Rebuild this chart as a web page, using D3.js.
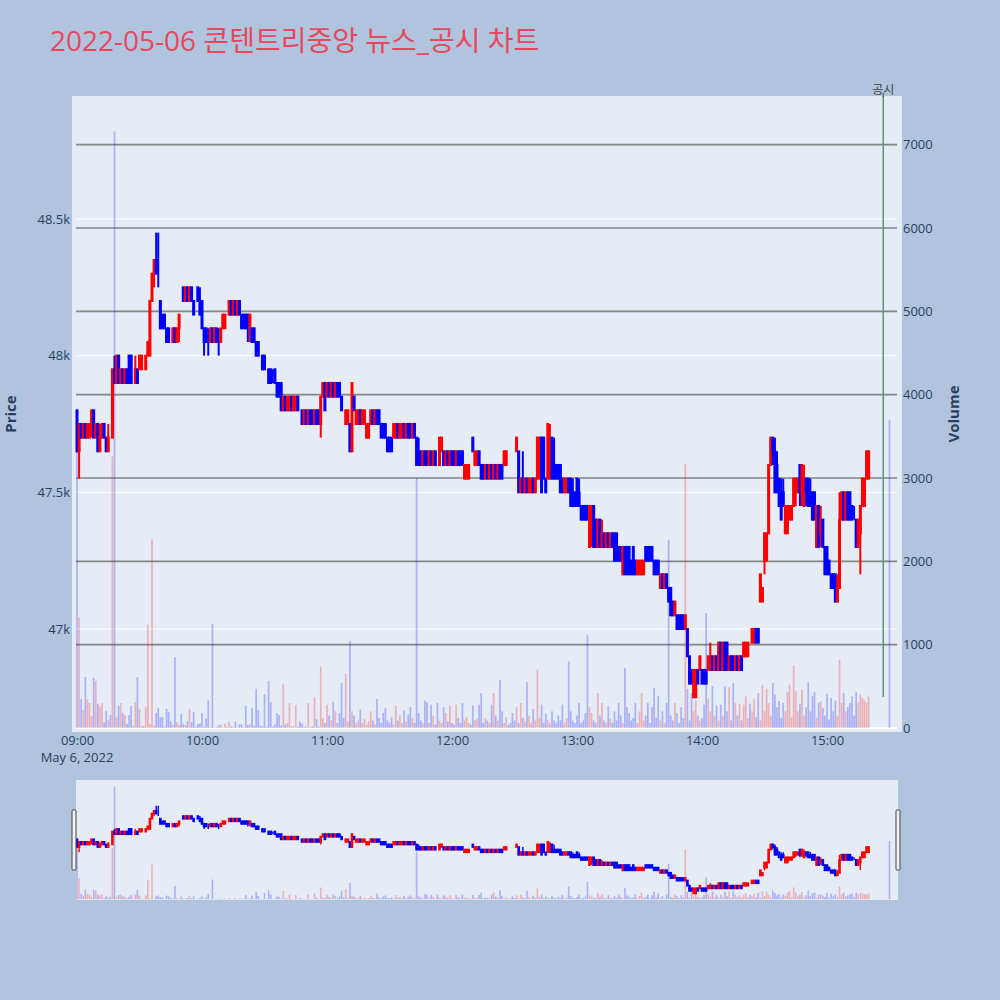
<!DOCTYPE html>
<html><head><meta charset="utf-8">
<script src="https://cdn.jsdelivr.net/npm/d3@7"></script>
<style>
body{margin:0;background:#b0c4de;}
svg{display:block;}
text{font-family:"Open Sans","Noto Sans CJK KR",sans-serif;}
</style></head>
<body><svg id="chart" width="1000" height="1000"></svg>
<script>
const titleText = "2022-05-06 콘텐트리중앙 뉴스_공시 차트";
const sessionStart = "2022-05-06 09:00";
const sessionEnd = "2022-05-06 15:20";
const closingAuction = "2022-05-06 15:30";
const disclosureTime = "2022-05-06 15:27";
const disclosureLabel = "공시";
const priceTicks = [47000, 47500, 48000, 48500];
const volumeTicks = [0,1000,2000,3000,4000,5000,6000,7000];
const timeTicks = ["09:00","10:00","11:00","12:00","13:00","14:00","15:00"];

const open = [
47800,47650,47750,47700,47750,47700,47700,47750,47800,47700,
47750,47650,47700,47750,47700,47650,47700,47700,47950,47900,
48000,47900,47950,47900,47950,48000,48000,47900,47900,47950,
47950,47950,48000,47950,48000,48000,48200,48300,48350,48300,
48200,48150,48150,48100,48100,48100,48050,48100,48050,48100,
48150,48250,48200,48250,48200,48250,48200,48200,48250,48200,
48200,48100,48100,48050,48050,48100,48050,48100,48050,48050,
48100,48100,48150,48150,48200,48150,48200,48150,48200,48150,
48150,48150,48150,48100,48100,48100,48050,48050,48000,48000,
48000,47950,47950,47950,47900,47950,47900,47900,47900,47800,
47850,47800,47800,47850,47800,47800,47850,47800,47800,47750,
47800,47750,47800,47800,47750,47800,47800,47750,47850,47900,
47850,47900,47850,47900,47850,47900,47900,47850,47800,47750,
47750,47750,47650,47850,47750,47750,47800,47750,47750,47700,
47700,47750,47800,47750,47800,47800,47750,47750,47750,47700,
47700,47700,47700,47700,47750,47700,47700,47750,47700,47750,
47750,47700,47750,47700,47650,47650,47600,47650,47650,47600,
47650,47600,47650,47600,47600,47650,47650,47600,47650,47600,
47650,47650,47600,47650,47650,47650,47550,47550,47550,47600,
47700,47600,47600,47650,47600,47600,47550,47600,47550,47600,
47550,47600,47550,47600,47600,47600,47600,47600,47600,47600,
47600,47650,47650,47500,47550,47500,47550,47500,47500,47550,
47500,47550,47550,47700,47700,47550,47550,47550,47700,47600,
47600,47600,47600,47550,47500,47500,47550,47550,47500,47500,
47550,47500,47450,47450,47450,47450,47300,47350,47450,47400,
47300,47400,47300,47350,47300,47350,47300,47350,47350,47350,
47300,47300,47200,47300,47300,47300,47250,47300,47250,47200,
47200,47200,47200,47300,47300,47300,47300,47250,47250,47250,
47150,47200,47150,47200,47150,47150,47100,47050,47050,47050,
47050,47050,47000,47000,46900,46850,46750,46750,46850,46850,
46850,46850,46850,46850,46850,46900,46850,46900,46850,46950,
46850,46950,46950,46850,46900,46900,46850,46900,46850,46900,
46900,46900,46900,46950,46950,46950,47000,47000,47100,47100,
47250,47250,47350,47600,47700,47650,47600,47550,47500,47500,
47350,47350,47400,47400,47450,47500,47500,47600,47500,47450,
47550,47550,47500,47500,47500,47300,47450,47350,47400,47300,
47300,47250,47200,47200,47200,47100,47150,47400,47500,47400,
47500,47500,47450,47400,47400,47300,47350,47450,47450,47550,47550,
46900];
const high = [
47800,47750,47750,47750,47750,47750,47750,47800,47800,47750,
47750,47750,47750,47750,47700,47750,47700,47950,48000,48000,
48000,47950,47950,47950,47950,48000,48000,47900,48000,47950,
48000,48000,48000,48000,48050,48200,48300,48350,48450,48450,
48200,48150,48150,48100,48100,48100,48100,48100,48100,48150,
48150,48250,48250,48250,48250,48250,48200,48200,48250,48250,
48200,48100,48100,48100,48100,48100,48100,48100,48100,48100,
48150,48150,48150,48200,48200,48200,48200,48200,48200,48150,
48150,48150,48150,48150,48100,48100,48050,48050,48000,48000,
48000,47950,47950,47950,47950,47950,47900,47900,47900,47850,
47850,47850,47850,47850,47850,47850,47850,47800,47800,47800,
47800,47800,47800,47800,47800,47800,47800,47850,47900,47900,
47900,47900,47900,47900,47900,47900,47900,47850,47800,47800,
47800,47750,47900,47850,47800,47800,47800,47800,47800,47750,
47750,47800,47800,47800,47800,47800,47750,47750,47750,47700,
47700,47700,47750,47750,47750,47750,47750,47750,47750,47750,
47750,47750,47750,47700,47700,47650,47650,47650,47650,47650,
47650,47650,47650,47600,47700,47700,47650,47650,47650,47650,
47650,47650,47650,47650,47650,47650,47600,47600,47600,47600,
47700,47650,47650,47650,47600,47600,47600,47600,47600,47600,
47600,47600,47600,47600,47600,47650,47650,47600,47600,47600,
47600,47700,47650,47550,47650,47550,47550,47550,47550,47550,
47550,47700,47700,47700,47700,47550,47750,47750,47700,47700,
47600,47600,47600,47550,47550,47550,47550,47550,47550,47500,
47550,47550,47450,47450,47450,47450,47450,47450,47450,47400,
47400,47400,47400,47350,47350,47350,47350,47350,47350,47350,
47300,47300,47300,47300,47300,47300,47250,47300,47250,47250,
47250,47250,47250,47300,47300,47300,47300,47250,47250,47250,
47200,47200,47200,47200,47150,47150,47100,47100,47050,47050,
47050,47050,47050,47000,46900,46850,46850,46850,46850,46900,
46850,46850,46850,46900,46950,46900,46900,46900,46950,46950,
46950,46950,46950,46900,46900,46900,46900,46900,46900,46900,
46950,46950,46950,46950,47000,47000,47000,47000,47200,47150,
47350,47350,47600,47700,47700,47700,47650,47550,47550,47550,
47450,47450,47450,47450,47550,47550,47550,47600,47600,47600,
47550,47550,47550,47500,47500,47450,47450,47450,47400,47300,
47300,47250,47200,47200,47200,47200,47500,47500,47500,47500,
47500,47500,47450,47450,47400,47400,47450,47550,47550,47650,47650,
46900];
const low = [
47650,47550,47700,47700,47700,47700,47700,47700,47700,47700,
47650,47650,47700,47700,47650,47650,47700,47700,47900,47900,
47900,47900,47900,47900,47900,47900,47900,47900,47900,47900,
47950,47950,48000,47950,48000,48000,48200,48250,48300,48250,
48100,48100,48100,48050,48050,48100,48050,48050,48050,48050,
48150,48200,48200,48200,48200,48200,48150,48200,48200,48150,
48100,48000,48050,48000,48050,48050,48050,48050,48000,48050,
48100,48100,48150,48150,48150,48150,48150,48150,48150,48100,
48100,48100,48050,48050,48050,48050,48000,48000,48000,47950,
47950,47950,47900,47900,47900,47900,47850,47850,47800,47800,
47800,47800,47800,47800,47800,47800,47800,47800,47750,47750,
47750,47750,47750,47750,47750,47750,47750,47700,47850,47800,
47850,47850,47850,47850,47850,47850,47850,47800,47800,47750,
47750,47650,47650,47800,47750,47750,47750,47750,47750,47700,
47700,47750,47750,47750,47750,47750,47700,47700,47700,47650,
47650,47650,47700,47700,47700,47700,47700,47700,47700,47700,
47700,47700,47700,47600,47600,47600,47600,47600,47600,47600,
47600,47600,47600,47600,47600,47650,47600,47600,47600,47600,
47600,47600,47600,47600,47600,47600,47550,47550,47550,47600,
47650,47600,47600,47600,47550,47550,47550,47550,47550,47550,
47550,47550,47550,47550,47550,47600,47600,47600,47600,47600,
47600,47650,47500,47500,47500,47500,47500,47500,47500,47500,
47500,47550,47550,47500,47550,47500,47550,47550,47550,47550,
47550,47550,47500,47500,47500,47500,47500,47450,47450,47450,
47450,47450,47400,47400,47400,47400,47300,47300,47300,47300,
47300,47300,47300,47300,47300,47300,47300,47300,47250,47250,
47250,47250,47200,47200,47200,47200,47200,47200,47200,47200,
47200,47200,47200,47250,47250,47250,47250,47200,47200,47200,
47150,47150,47150,47150,47100,47050,47050,47050,47000,47000,
47000,47000,47000,46900,46800,46800,46750,46750,46800,46850,
46800,46800,46800,46850,46850,46850,46850,46850,46850,46850,
46850,46850,46850,46850,46850,46850,46850,46850,46850,46850,
46900,46900,46900,46950,46950,46950,46950,46950,47100,47100,
47200,47250,47350,47600,47600,47500,47500,47450,47400,47450,
47350,47350,47400,47400,47450,47450,47500,47450,47450,47450,
47450,47450,47450,47400,47400,47300,47300,47300,47300,47200,
47200,47200,47150,47150,47100,47100,47150,47400,47400,47400,
47400,47400,47400,47400,47300,47300,47200,47450,47450,47550,47550,
46900];
const close = [
47650,47750,47700,47750,47700,47750,47750,47800,47700,47750,
47650,47700,47750,47700,47650,47700,47700,47950,47900,48000,
47900,47950,47900,47950,47900,47900,47900,47900,47950,47900,
48000,48000,48000,48000,48050,48200,48300,48350,48300,48300,
48100,48100,48100,48050,48050,48100,48100,48050,48100,48150,
48150,48200,48250,48200,48250,48200,48150,48200,48200,48150,
48100,48050,48050,48050,48100,48050,48100,48050,48050,48100,
48150,48150,48150,48200,48150,48200,48150,48200,48150,48100,
48100,48100,48100,48150,48050,48050,48000,48000,48000,47950,
47950,47950,47900,47900,47900,47900,47850,47850,47800,47850,
47800,47850,47850,47800,47850,47850,47800,47800,47750,47800,
47750,47800,47750,47750,47800,47750,47750,47850,47900,47800,
47900,47850,47900,47850,47900,47850,47850,47800,47800,47800,
47800,47650,47900,47800,47800,47800,47750,47800,47800,47750,
47750,47800,47750,47800,47750,47750,47700,47700,47700,47650,
47650,47650,47750,47750,47700,47750,47750,47700,47750,47700,
47700,47750,47700,47600,47600,47600,47650,47600,47600,47650,
47600,47650,47600,47600,47700,47700,47600,47650,47600,47650,
47600,47600,47650,47600,47600,47600,47600,47600,47600,47600,
47650,47650,47650,47600,47550,47550,47600,47550,47600,47550,
47600,47550,47600,47550,47550,47650,47650,47600,47600,47600,
47600,47700,47500,47550,47500,47550,47500,47550,47550,47500,
47550,47700,47700,47500,47550,47500,47750,47700,47550,47550,
47550,47550,47500,47500,47550,47550,47500,47450,47450,47450,
47450,47450,47400,47400,47400,47400,47450,47450,47300,47300,
47400,47300,47350,47300,47350,47300,47350,47300,47250,47250,
47250,47250,47300,47200,47200,47200,47200,47200,47200,47250,
47250,47250,47250,47250,47250,47250,47250,47200,47200,47200,
47200,47150,47200,47150,47100,47050,47050,47100,47000,47000,
47000,47000,47050,46900,46800,46800,46850,46850,46800,46900,
46800,46800,46800,46900,46900,46850,46900,46850,46950,46850,
46950,46850,46850,46900,46850,46850,46900,46850,46900,46850,
46950,46950,46950,46950,47000,47000,46950,46950,47200,47150,
47350,47350,47600,47700,47650,47500,47500,47450,47400,47450,
47450,47450,47450,47450,47550,47550,47550,47500,47600,47550,
47500,47450,47450,47400,47400,47450,47300,47400,47300,47200,
47200,47200,47150,47150,47100,47150,47400,47500,47400,47500,
47400,47400,47400,47400,47300,47400,47450,47550,47550,47650,47650,
46900];
const volume = [
3800,1330,350,215,615,340,300,145,600,565,
290,255,300,70,205,95,155,3260,7160,135,
265,300,180,150,50,155,265,20,310,610,
230,25,25,250,1240,50,2260,25,180,240,
130,130,15,230,190,80,35,850,70,35,
170,45,35,85,230,70,195,15,50,55,
180,15,115,330,10,1250,10,10,35,45,
10,55,15,80,20,15,80,10,45,45,
10,265,35,45,240,25,470,215,25,20,
405,15,565,310,15,45,180,155,30,525,
40,60,300,20,20,275,15,80,55,15,
15,300,10,20,370,105,15,740,120,60,
280,150,90,310,200,60,180,540,120,650,
80,1040,200,150,60,90,220,60,110,40,
80,200,90,50,350,120,60,180,240,90,
60,130,40,270,90,150,60,210,80,160,
250,120,60,3000,180,90,60,330,310,60,
280,150,40,300,90,60,250,180,80,270,
60,40,280,120,60,300,90,130,60,40,
270,90,110,280,420,60,120,90,60,280,
420,150,90,575,200,60,130,40,60,180,
90,250,60,300,120,80,550,150,60,230,
90,700,120,280,60,170,90,60,200,90,
60,150,90,280,60,120,800,200,90,60,
150,300,60,90,180,1120,250,180,90,60,
420,150,300,90,60,260,110,60,200,90,
300,150,60,720,250,180,90,120,300,60,
200,420,90,150,300,60,250,480,120,380,
90,200,60,300,2260,150,90,300,180,60,
250,120,3170,470,90,420,200,330,150,90,
120,280,1380,350,200,500,150,270,90,280,
150,500,200,490,90,540,300,150,290,90,
280,380,120,290,200,350,130,420,90,520,
200,470,300,150,540,400,250,320,120,300,
200,430,520,130,750,440,200,290,460,150,
250,550,200,380,430,120,300,320,240,150,
410,100,360,200,330,150,820,300,420,200,
250,300,380,150,430,300,400,360,330,300,380,
3700];

// ---------- time categories ----------
const parse = d3.timeParse("%Y-%m-%d %H:%M");
const times = d3.timeMinute.range(parse(sessionStart), d3.timeMinute.offset(parse(sessionEnd),1))
  .concat([parse(closingAuction)]);
const data = times.map((t,i)=>({t, o:open[i], h:high[i], l:low[i], c:close[i], v:volume[i]}));

const UP = "#ff0000", DOWN = "#0000ff";
const svg = d3.select("#chart");

// ---------- layout ----------
const plot = {x0:72, x1:902, y0:96, y1:732};
const grid = {x0:76, x1:897};
const slider = {x0:76, x1:898, y0:780, y1:900};

const x = d3.scaleTime()
  .domain([d3.timeSecond.offset(parse(sessionStart), -144), d3.timeMinute.offset(parse("2022-05-06 15:00"), 36)])
  .range([plot.x0, plot.x1]);
const yP = d3.scaleLinear().domain([46623, 48950]).range([plot.y1, plot.y0]);
const yV = d3.scaleLinear().domain([-48, 7584]).range([plot.y1, plot.y0]);
const yPs = yP.copy().range([slider.y1, slider.y0]);
const yVs = yV.copy().range([slider.y1, slider.y0]);

// title
svg.append("text").attr("x",50).attr("y",51)
  .attr("font-size",28).attr("fill","#e8485f").text(titleText);

// plot background
svg.append("rect").attr("x",plot.x0).attr("y",plot.y0)
  .attr("width",plot.x1-plot.x0).attr("height",plot.y1-plot.y0).attr("fill","#e5ecf6");

// price gridlines (white)
svg.append("g").selectAll("line").data(priceTicks).join("line")
  .attr("x1",grid.x0).attr("x2",grid.x1)
  .attr("y1",d=>yP(d)).attr("y2",d=>yP(d))
  .attr("stroke","#ffffff").attr("stroke-width",1);

// volume gridlines (gray) + zero line
svg.append("g").selectAll("line").data(volumeTicks.filter(d=>d>0)).join("line")
  .attr("x1",grid.x0).attr("x2",grid.x1)
  .attr("y1",d=>yV(d)).attr("y2",d=>yV(d))
  .attr("stroke","#858585").attr("stroke-width",1.6);
svg.append("line").attr("x1",grid.x0).attr("x2",grid.x1)
  .attr("y1",yV(0)).attr("y2",yV(0)).attr("stroke","#ffffff").attr("stroke-width",2);

// clip paths
svg.append("clipPath").attr("id","clipMain").append("rect")
  .attr("x",plot.x0).attr("y",plot.y0).attr("width",plot.x1-plot.x0).attr("height",plot.y1-plot.y0);
svg.append("clipPath").attr("id","clipSlider").append("rect")
  .attr("x",slider.x0).attr("y",slider.y0).attr("width",slider.x1-slider.x0).attr("height",slider.y1-slider.y0);

function drawCandles(g, ys, bodyW, strokeW, wickW){
  const cg = g.selectAll("g.c").data(data).join("g").attr("class","c");
  cg.append("line")
    .attr("x1",d=>x(d.t)).attr("x2",d=>x(d.t))
    .attr("y1",d=>ys(d.h)).attr("y2",d=>ys(d.l))
    .attr("stroke",d=>d.c>d.o?UP:DOWN).attr("stroke-width",wickW);
  cg.append("rect")
    .attr("x",d=>x(d.t)-bodyW/2).attr("width",bodyW)
    .attr("y",d=>ys(Math.max(d.o,d.c)))
    .attr("height",d=>Math.abs(ys(d.o)-ys(d.c)))
    .attr("fill",d=>d.c>d.o?UP:DOWN)
    .attr("stroke",d=>d.c>d.o?UP:DOWN).attr("stroke-width",strokeW);
}
function drawVolume(g, ys, w){
  g.selectAll("rect").data(data).join("rect")
    .attr("x",d=>x(d.t)-w/2).attr("width",w)
    .attr("y",d=>ys(d.v)).attr("height",d=>ys(0)-ys(d.v))
    .attr("fill",d=>d.c>d.o?"rgba(255,0,0,0.25)":"rgba(0,0,255,0.25)");
}

const main = svg.append("g").attr("clip-path","url(#clipMain)");
drawCandles(main.append("g"), yP, 1, 2, 2);
drawVolume(main.append("g"), yV, 1.7);

// disclosure line + label
const xd = x(parse(disclosureTime));
svg.append("line").attr("x1",xd).attr("x2",xd).attr("y1",plot.y0).attr("y2",697)
  .attr("stroke","#4f9a78").attr("stroke-width",1.5);
svg.append("line").attr("x1",xd).attr("x2",xd).attr("y1",93).attr("y2",plot.y0+1)
  .attr("stroke","#444").attr("stroke-width",1);
svg.append("text").attr("x",xd).attr("y",94).attr("text-anchor","middle")
  .attr("font-size",12).attr("fill","#444").text(disclosureLabel);

// axes
const fmtK = d3.format("~s");
const axisColor = "#2a3f5f";
const leftAxis = svg.append("g").attr("transform",`translate(70,0)`)
  .call(d3.axisLeft(yP).tickValues(priceTicks).tickFormat(fmtK).tickSize(0).tickPadding(0));
const rightAxis = svg.append("g").attr("transform",`translate(903,0)`)
  .call(d3.axisRight(yV).tickValues(volumeTicks).tickFormat(d3.format("d")).tickSize(0).tickPadding(0));
const bottomAxis = svg.append("g").attr("transform",`translate(0,736)`)
  .call(d3.axisBottom(x).tickValues(timeTicks.map(s=>parse("2022-05-06 "+s)))
    .tickFormat(d3.timeFormat("%H:%M")).tickSize(0).tickPadding(0));
[leftAxis,rightAxis,bottomAxis].forEach(a=>{
  a.select(".domain").remove();
  a.selectAll("text").attr("font-size",13).attr("fill",axisColor)
    .attr("font-family","'Open Sans',sans-serif");
});
svg.append("text").attr("x",x(parse(sessionStart))).attr("y",762).attr("text-anchor","middle")
  .attr("font-size",13).attr("fill",axisColor).text(d3.timeFormat("%b %-d, %Y")(parse(sessionStart)));

// axis titles
svg.append("text").attr("transform","translate(16,414) rotate(-90)").attr("text-anchor","middle")
  .attr("font-size",15).attr("font-weight","bold").attr("fill",axisColor).text("Price");
svg.append("text").attr("transform","translate(959,414) rotate(-90)").attr("text-anchor","middle")
  .attr("font-size",15).attr("font-weight","bold").attr("fill",axisColor).text("Volume");

// range slider
svg.append("rect").attr("x",slider.x0).attr("y",slider.y0)
  .attr("width",slider.x1-slider.x0).attr("height",slider.y1-slider.y0).attr("fill","#e5ecf6");
const sg = svg.append("g").attr("clip-path","url(#clipSlider)");
drawCandles(sg.append("g"), yPs, 0.8, 1.8, 1.4);
drawVolume(sg.append("g"), yVs, 1.6);
const hh = (slider.y1-slider.y0)/2;
[slider.x0-2, slider.x1].forEach(hx=>{
  svg.append("rect").attr("x",hx-2).attr("y",slider.y0+hh/2).attr("width",4).attr("height",hh)
    .attr("fill","#f2f2f2").attr("stroke","#444").attr("stroke-width",1).attr("rx",1);
});
</script></body></html>
